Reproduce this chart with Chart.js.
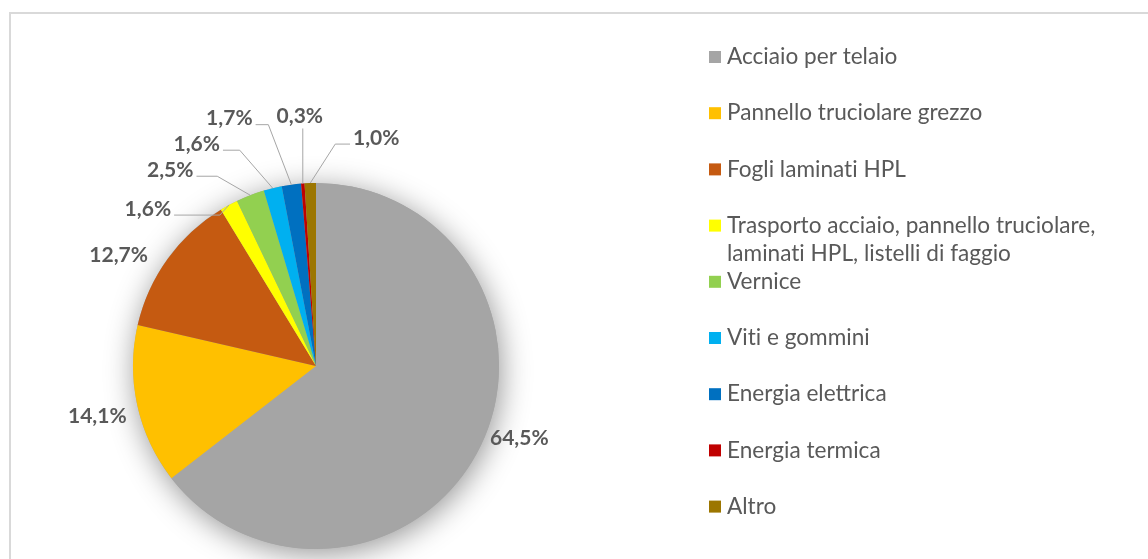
<!DOCTYPE html>
<html><head><meta charset="utf-8">
<script src="https://cdn.jsdelivr.net/npm/chart.js@4/dist/chart.umd.min.js"></script>
<style>html,body{margin:0;padding:0;background:#fff;overflow:hidden}canvas{display:block}</style>
</head><body>
<canvas id="c" width="1148" height="559"></canvas>
<script>
const categories = [
  'Acciaio per telaio',
  'Pannello truciolare grezzo',
  'Fogli laminati HPL',
  'Trasporto acciaio, pannello truciolare, laminati HPL, listelli di faggio',
  'Vernice',
  'Viti e gommini',
  'Energia elettrica',
  'Energia termica',
  'Altro'
];
const values = [64.5, 14.1, 12.7, 1.6, 2.5, 1.6, 1.7, 0.3, 1.0];
const colors = ['#A5A5A5', '#FFC000', '#C55A11', '#FFFF00', '#92D050', '#00B0F0', '#0070C0', '#C00000', '#9C7600'];

// label placement relative to the slice's outer mid-point (layout only)
const labelLayout = [
  {dx: 39, dy: -8},
  {dx: -40, dy: 11},
  {dx: -49, dy: -4},
  {dx: -81, dy: 4, elbow: -9},
  {dx: -80, dy: -25, elbow: -33},
  {dx: -76, dy: -44, elbow: -33},
  {dx: -62, dy: -66, elbow: -23},
  {dx: -3, dy: -67, vertical: true},
  {dx: 66, dy: -45, elbow: 25}
];

const TEXT = '#595959';
const LABEL_FONT = 'bold 21px Lato';
const LEGEND_FONT = '22.6px Lato';

// avoid font ligatures (e.g. "ti") when drawing text
function noLig(s) { return s.replace(/t(?=i)|f(?=[il])/g, m => m + '\u200C'); }

const framePlugin = {
  id: 'frame',
  beforeDraw(chart) {
    const ctx = chart.ctx;
    ctx.save();
    ctx.fillStyle = '#fff';
    ctx.fillRect(0, 0, chart.width, chart.height);
    ctx.strokeStyle = '#D9D9D9';
    ctx.lineWidth = 2;
    ctx.beginPath();
    ctx.moveTo(10, chart.height + 5);
    ctx.lineTo(10, 13);
    ctx.lineTo(chart.width + 5, 13);
    ctx.stroke();
    ctx.restore();
  }
};

const shadowPlugin = {
  id: 'pieShadow',
  beforeDatasetsDraw(chart) {
    const arc = chart.getDatasetMeta(0).data[0];
    if (!arc) return;
    const ctx = chart.ctx;
    ctx.save();
    ctx.shadowColor = 'rgba(0,0,0,0.42)';
    ctx.shadowBlur = 30;
    ctx.shadowOffsetX = 2;
    ctx.shadowOffsetY = 5;
    ctx.beginPath();
    ctx.arc(arc.x, arc.y, arc.outerRadius, 0, Math.PI * 2);
    ctx.fillStyle = '#A5A5A5';
    ctx.fill();
    ctx.restore();
  }
};

const labelPlugin = {
  id: 'sliceLabels',
  afterDatasetsDraw(chart) {
    const ctx = chart.ctx;
    const meta = chart.getDatasetMeta(0);
    const data = chart.data.datasets[0].data;
    ctx.save();
    ctx.font = LABEL_FONT;
    ctx.fillStyle = TEXT;
    ctx.textAlign = 'center';
    ctx.textBaseline = 'middle';
    meta.data.forEach((arc, i) => {
      const mid = (arc.startAngle + arc.endAngle) / 2;
      const ax = arc.x + Math.cos(mid) * arc.outerRadius;
      const ay = arc.y + Math.sin(mid) * arc.outerRadius;
      const L = labelLayout[i];
      const lx = ax + L.dx, ly = ay + L.dy;
      const txt = data[i].toFixed(1).replace('.', ',') + '%';
      const w = ctx.measureText(txt).width;
      if (L.vertical || L.elbow !== undefined) {
        ctx.save();
        ctx.strokeStyle = '#A6A6A6';
        ctx.lineWidth = 1;
        ctx.beginPath();
        if (L.vertical) {
          ctx.moveTo(ax, ly + 12);
          ctx.lineTo(ax, ay);
        } else {
          const lineY = ly + 6;
          const sx = L.elbow < 0 ? lx + w / 2 + 3 : lx - w / 2 - 3;
          ctx.moveTo(sx, lineY);
          ctx.lineTo(ax + L.elbow, lineY);
          ctx.lineTo(ax, ay);
        }
        ctx.stroke();
        ctx.restore();
      }
      ctx.fillText(txt, lx, ly);
    });
    ctx.restore();
  }
};

const legendPlugin = {
  id: 'sideLegend',
  afterDraw(chart) {
    const ctx = chart.ctx;
    const opts = chart.options.plugins.sideLegend;
    const labels = chart.data.labels;
    const bg = chart.data.datasets[0].backgroundColor;
    ctx.save();
    ctx.font = LEGEND_FONT;
    ctx.textBaseline = 'middle';
    ctx.textAlign = 'left';
    labels.forEach((lab, i) => {
      const y = opts.top + i * opts.spacing;
      ctx.fillStyle = bg[i];
      ctx.fillRect(opts.x, y - 6, opts.box, opts.box);
      const words = lab.split(' ');
      const lines = [];
      let cur = '';
      words.forEach(wd => {
        const t = cur ? cur + ' ' + wd : wd;
        if (ctx.measureText(t).width > opts.maxWidth && cur) { lines.push(cur); cur = wd; }
        else cur = t;
      });
      lines.push(cur);
      ctx.fillStyle = TEXT;
      lines.forEach((ln, k) => ctx.fillText(noLig(ln), opts.x + opts.box + 6, y + k * opts.lineHeight));
    });
    ctx.restore();
  }
};

new Chart(document.getElementById('c'), {
  type: 'pie',
  data: {
    labels: categories,
    datasets: [{
      data: values,
      backgroundColor: colors,
      borderWidth: 0,
      hoverOffset: 0
    }]
  },
  options: {
    responsive: false,
    animation: false,
    events: [],
    layout: {padding: {left: 133, right: 649, top: 183, bottom: 10}},
    plugins: {
      legend: {display: false},
      tooltip: {enabled: false},
      sideLegend: {x: 709, top: 57, spacing: 56.2, box: 12, lineHeight: 28, maxWidth: 410}
    }
  },
  plugins: [framePlugin, shadowPlugin, labelPlugin, legendPlugin]
});
</script>
</body></html>
